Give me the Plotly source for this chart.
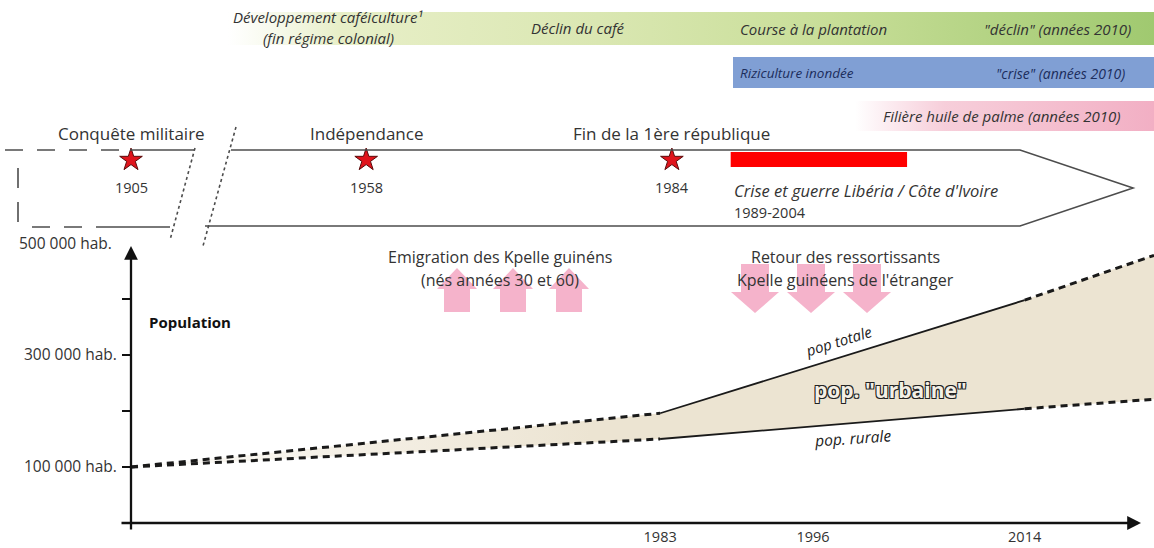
import plotly.graph_objects as go

W, H = 1154, 548
FONT = "Open Sans"

# ---------------- data ----------------
pop_years = [1938, 1983, 2014, 2025]
pop_total = [100000, 196000, 398000, 478000]
pop_rural = [100000, 150000, 204000, 221000]
pop_ticks = [0, 100000, 200000, 300000, 400000]
pop_tick_text = ["", "100 000 hab.", "", "300 000 hab.", ""]
census_years = [1983, 1996, 2014]
event_years = [1905, 1958, 1984]
event_names = ["Conquête militaire", "Indépendance", "Fin de la 1ère république"]
crisis_years = [1989, 2004]

fig = go.Figure()

# pixel-space helper subplot (x3, y2)
fig.add_trace(go.Scatter(x=[], y=[], xaxis="x3", yaxis="y2", showlegend=False))

# ---------------- top bands ----------------
def band(x0, x1, y0, y1, colorscale):
    fig.add_trace(go.Scatter(
        x=[x0, x1, x1, x0, x0], y=[y0, y0, y1, y1, y0], xaxis="x3", yaxis="y2",
        mode="lines", line=dict(width=0), fill="toself",
        fillgradient=dict(type="horizontal", colorscale=colorscale),
        hoverinfo="skip", showlegend=False))

band(228, 1154, 12, 45, [[0, "rgba(238,243,214,0)"], [0.12, "rgba(232,239,200,1)"],
                         [0.4, "rgba(218,231,178,1)"], [0.65, "rgba(200,222,152,1)"],
                         [1, "rgba(160,201,112,1)"]])
band(733, 1154, 57, 88, [[0, "#809fd4"], [1, "#809fd4"]])
band(855, 1154, 101, 131, [[0, "rgba(243,180,199,0)"], [0.3, "rgba(243,185,202,0.7)"],
                           [1, "rgba(242,175,196,1)"]])

# ---------------- population area ----------------
fig.add_trace(go.Scatter(
    x=pop_years + pop_years[::-1], y=pop_total + pop_rural[::-1],
    mode="lines", line=dict(width=0), fill="toself",
    fillgradient=dict(type="horizontal", colorscale=[[0, "rgba(236,228,210,0.15)"],
                                                     [0.45, "rgba(236,228,210,1)"],
                                                     [1, "rgba(236,228,210,1)"]]),
    hoverinfo="skip", showlegend=False))

for series in (pop_total, pop_rural):
    for i in range(len(pop_years) - 1):
        solid = (i == 1)
        fig.add_trace(go.Scatter(
            x=pop_years[i:i + 2], y=series[i:i + 2], mode="lines",
            line=dict(color="#1a1a1a", width=1.8 if solid else 3,
                      dash="solid" if solid else "7px,5px"),
            hoverinfo="skip", showlegend=False))

# ---------------- timeline frame ----------------
LC = "#4d4d4d"
def seg(x0, y0, x1, y1, dash="solid", width=1.6, color=LC):
    fig.add_shape(type="line", x0=x0, y0=y0, x1=x1, y1=y1, xref="x3", yref="y2",
                  line=dict(color=color, width=width, dash=dash))

seg(5, 150, 130, 150, dash="18px,14px")
seg(130, 150, 194, 150)
seg(18, 168, 18, 224, dash="20px,14px")
seg(32, 227, 113, 227, dash="18px,14px")
seg(113, 227, 170, 227)
seg(195, 148, 170, 240, dash="dot", width=1.6)
seg(236, 127, 203, 246, dash="dot", width=1.6)
fig.add_shape(type="path", xref="x3", yref="y2",
              path="M 231,150 L 1020,150 L 1133,188 L 1020,226 L 205,226",
              line=dict(color=LC, width=1.6))

# crisis bar
fig.add_shape(type="rect", xref="x", yref="y2", x0=crisis_years[0], x1=crisis_years[1],
              y0=152, y1=167, fillcolor="#ff0000", line=dict(width=0))

# stars
fig.add_trace(go.Scatter(x=event_years[:1], y=[160], xaxis="x2", yaxis="y2", mode="markers",
                         marker=dict(symbol="star", size=17, color="#e0141c",
                                     line=dict(color="#5a0a0a", width=1)),
                         hoverinfo="skip", showlegend=False))
fig.add_trace(go.Scatter(x=event_years[1:], y=[160, 160], xaxis="x", yaxis="y2", mode="markers",
                         marker=dict(symbol="star", size=17, color="#e0141c",
                                     line=dict(color="#5a0a0a", width=1)),
                         hoverinfo="skip", showlegend=False))

# ---------------- arrows (migration) ----------------
PINK = "rgba(242,160,190,0.8)"
for cx in (457, 513, 569):
    fig.add_shape(type="path", xref="x3", yref="y2", fillcolor=PINK, line=dict(width=0),
                  path=f"M {cx-13},312 L {cx+13},312 L {cx+13},289 L {cx+20},289 L {cx},268 "
                       f"L {cx-20},289 L {cx-13},289 Z")
for cx in (755, 811, 867):
    fig.add_shape(type="path", xref="x3", yref="y2", fillcolor=PINK, line=dict(width=0),
                  path=f"M {cx-14},264 L {cx+14},264 L {cx+14},292 L {cx+24},292 L {cx},313 "
                       f"L {cx-24},292 L {cx-14},292 Z")

# ---------------- texts ----------------
def note(x, y, text, size=14, color="#333333", xanchor="center", xref="x3", angle=0, **kw):
    fig.add_annotation(x=x, y=y, xref=xref, yref="y2", text=text, showarrow=False,
                       font=dict(size=size, color=color, family=FONT),
                       xanchor=xanchor, yanchor="middle", textangle=angle, **kw)

note(328, 17, "<i>Développement caféiculture¹</i>", 15)
note(328, 38, "<i>(fin régime colonial)</i>", 15)
note(578, 28, "<i>Déclin du café</i>", 15)
note(813, 29, "<i>Course à la plantation</i>", 15)
note(1057, 29, "<i>\"déclin\" (années 2010)</i>", 15)
note(738, 73, "<i>Riziculture inondée</i>", 13.5, color="#1c2d5c", xanchor="left")
note(1060, 73, "<i>\"crise\" (années 2010)</i>", 14, color="#1c2d5c")
note(1002, 116, "<i>Filière huile de palme (années 2010)</i>", 15)

note(event_years[0], 133, event_names[0], 17, xref="x2")
for yr, name in zip(event_years[1:], event_names[1:]):
    note(yr, 133, name, 17, xref="x")
note(event_years[0], 187, str(event_years[0]), 14.5, xref="x2")
for yr in event_years[1:]:
    note(yr, 187, str(yr), 14.5, xref="x")

note(crisis_years[0], 190, "<i>Crise et guerre Libéria / Côte d'Ivoire</i>", 16.5, xref="x",
     xanchor="left", xshift=1)
note(crisis_years[0], 212, f"{crisis_years[0]}-{crisis_years[1]}", 14.5, xref="x",
     xanchor="left", xshift=1)

note(500, 257, "Emigration des Kpelle guinéns", 16)
note(500, 280, "(nés années 30 et 60)", 16)
note(845, 257, "Retour des ressortissants", 16)
note(845, 280, "Kpelle guinéens de l'étranger", 16)

note(114, 243, "500 000 hab.", 15.5, xanchor="right")
note(147, 322, "<b>Population</b>", 15, color="#111111", xanchor="left")

note(838, 341, "<i>pop totale</i>", 15, color="#222222", angle=-17)
note(852, 438, "<i>pop. rurale</i>", 15.5, color="#222222", angle=-4)
fig.add_annotation(x=890, y=390, xref="x3", yref="y2", text="<b>pop. \"urbaine\"</b>", showarrow=False,
                   font=dict(size=21, color="#f3efe6", family=FONT,
                             shadow="1px 1px 0 #222, -1px -1px 0 #222, 1px -1px 0 #222, -1px 1px 0 #222"))

# axis arrows
fig.add_annotation(x=1141, y=523, ax=120, ay=523, xref="x3", yref="y2", axref="x3", ayref="y2",
                   text="", showarrow=True, arrowhead=2, arrowsize=1.2, arrowwidth=2.3, arrowcolor="#111111")
fig.add_annotation(x=131, y=246, ax=131, ay=531, xref="x3", yref="y2", axref="x3", ayref="y2",
                   text="", showarrow=True, arrowhead=2, arrowsize=1.2, arrowwidth=2.3, arrowcolor="#111111")

# ---------------- layout ----------------
fig.update_layout(
    width=W, height=H, margin=dict(l=0, r=0, t=0, b=0),
    paper_bgcolor="white", plot_bgcolor="rgba(0,0,0,0)", showlegend=False,
    font=dict(family=FONT, color="#333333"),
    xaxis=dict(domain=[131 / W, 1], range=[1938, 2025], tickvals=census_years,
               ticktext=[str(v) for v in census_years], ticks="", showgrid=False,
               zeroline=False, showline=False, tickfont=dict(size=14.5, color="#333333"),
               anchor="y", ticklabelstandoff=3),
    yaxis=dict(domain=[1 - 523 / H, 1 - 243 / H], range=[0, 500000], tickvals=pop_ticks,
               ticktext=pop_tick_text, ticks="outside", ticklen=8, tickwidth=2,
               tickcolor="#111111", showgrid=False, zeroline=False, showline=False,
               tickfont=dict(size=15.5, color="#333333"), anchor="x", ticklabelstandoff=2),
    xaxis2=dict(domain=[0, 195 / W], range=[1870, 1922.1], visible=False, anchor="y2"),
    xaxis3=dict(domain=[0, 1], range=[0, W], visible=False, anchor="y2"),
    yaxis2=dict(domain=[0, 1], range=[H, 0], visible=False, anchor="x3"),
)

fig.write_html("out.html", config={"displayModeBar": False},
               post_script="document.body.style.margin='0';")
